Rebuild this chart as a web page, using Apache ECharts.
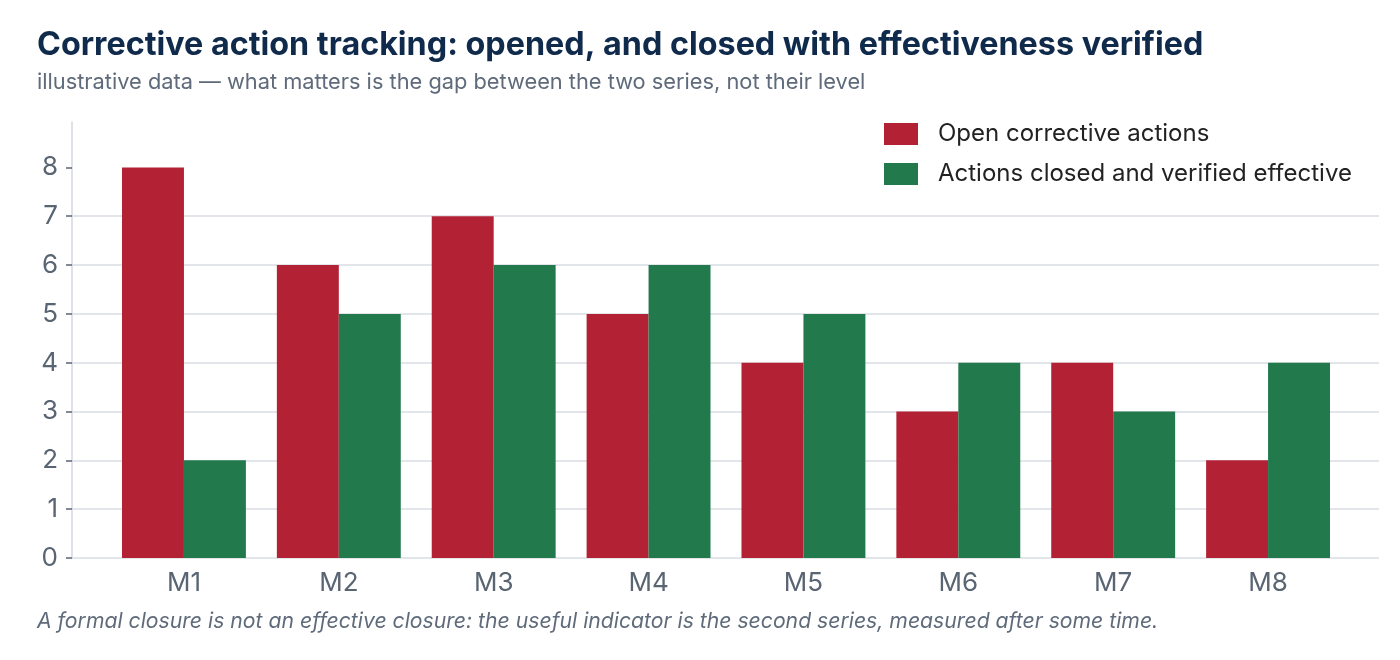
<!DOCTYPE html>
<html>
<head>
<meta charset="utf-8">
<script src="https://cdn.jsdelivr.net/npm/echarts@6/dist/echarts.min.js"></script>
<style>
  html, body { margin: 0; padding: 0; background: #fff; }
  #chart { width: 1400px; height: 660px; }
</style>
</head>
<body>
<div id="chart"></div>
<script>
// data
var months = ['M1', 'M2', 'M3', 'M4', 'M5', 'M6', 'M7', 'M8'];
var openActions = [8, 6, 7, 5, 4, 3, 4, 2];
var closedEffective = [2, 5, 6, 6, 5, 4, 3, 4];
var yTicks = [0, 1, 2, 3, 4, 5, 6, 7, 8];

var seriesNames = ['Open corrective actions', 'Actions closed and verified effective'];
var titleText = 'Corrective action tracking: opened, and closed with effectiveness verified';
var subtitleText = 'illustrative data \u2014 what matters is the gap between the two series, not their level';
var noteText = 'A formal closure is not an effective closure: the useful indicator is the second series, measured after some time.';

var FONT = 'Inter, "Noto Sans", sans-serif';
var yMax = 8.93;

var chart = echarts.init(document.getElementById('chart'));

var option = {
	backgroundColor: '#ffffff',
	animation: false,
	textStyle: { fontFamily: FONT },
	title: [
		{
			text: titleText,
			left: 37, top: 29, padding: 0,
			textStyle: { fontFamily: FONT, fontSize: 32.3, fontWeight: 'bold', color: '#102a4c' }
		},
		{
			text: subtitleText,
			left: 37, top: 71, padding: 0,
			textStyle: { fontFamily: FONT, fontSize: 21.8, fontWeight: 'normal', color: '#5f6b7a' }
		},
		{
			text: noteText,
			left: 37, top: 611, padding: 0,
			textStyle: { fontFamily: FONT, fontSize: 21.2, fontWeight: 'normal', fontStyle: 'italic', color: '#5f6b7a' }
		}
	],
	legend: {
		orient: 'vertical',
		left: 884, top: 122,
		icon: 'rect',
		itemWidth: 34, itemHeight: 22,
		itemGap: 16,
		padding: 0,
		data: seriesNames,
		textStyle: { fontFamily: FONT, fontSize: 24, color: '#222222', padding: [0, 0, 0, 15] }
	},
	grid: [
		// outer grid: axis line and gridlines
		{ left: 72, right: 21, top: 122, bottom: 102 },
		// inner grid: bars, padded like the reference
		{ left: 106.5, right: 54.5, top: 122, bottom: 102 }
	],
	xAxis: [
		{ type: 'value', gridIndex: 0, show: false, min: 0, max: 1 },
		{
			type: 'category', gridIndex: 1, data: months,
			axisLine: { show: false }, axisTick: { show: false },
			axisLabel: { fontFamily: FONT, fontSize: 26, color: '#5a6573', margin: 12 }
		}
	],
	yAxis: [
		{
			type: 'value', gridIndex: 0, min: 0, max: yMax, interval: 1,
			axisLine: { show: true, lineStyle: { color: '#d3d8de', width: 1.5 } },
			axisTick: { show: true, length: 6, customValues: yTicks, lineStyle: { color: '#5a6573', width: 1.5 } },
			axisLabel: { fontFamily: FONT, fontSize: 26, color: '#5a6573', margin: 14, customValues: yTicks },
			splitLine: { show: true, showMaxLine: false, lineStyle: { color: '#d9dde2', width: 1.5 } }
		},
		{ type: 'value', gridIndex: 1, min: 0, max: yMax, interval: 1, show: false, splitLine: { show: false } }
	],
	series: [
		{
			name: seriesNames[0], type: 'bar', xAxisIndex: 1, yAxisIndex: 1,
			data: openActions, barGap: '0%', barCategoryGap: '20%',
			itemStyle: { color: '#b22234' }
		},
		{
			name: seriesNames[1], type: 'bar', xAxisIndex: 1, yAxisIndex: 1,
			data: closedEffective, barGap: '0%', barCategoryGap: '20%',
			itemStyle: { color: '#21794c' }
		}
	]
};

chart.setOption(option);
</script>
</body>
</html>
